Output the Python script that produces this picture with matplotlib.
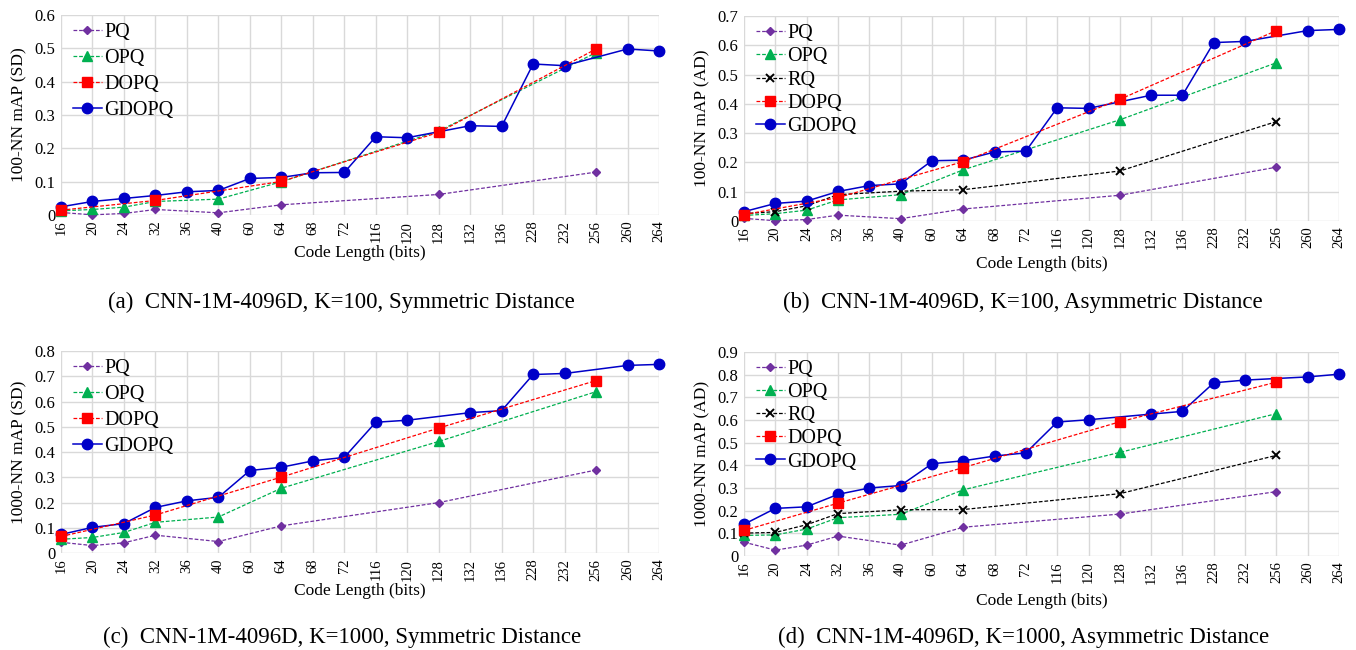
import matplotlib
matplotlib.use("Agg")
import matplotlib.pyplot as plt
from matplotlib.ticker import FuncFormatter, MultipleLocator

# Code lengths shown on the categorical x axis
CODE_LENGTHS = [16, 20, 24, 32, 36, 40, 60, 64, 68, 72,
                116, 120, 128, 132, 136, 228, 232, 256, 260, 264]

# Code lengths at which each method was evaluated
BASE_BITS = [16, 20, 24, 32, 40, 64, 128, 256]          # PQ, OPQ, RQ
DOPQ_BITS = [16, 32, 64, 128, 256]
GDOPQ_BITS = [16, 20, 24, 32, 36, 40, 60, 64, 68, 72,
              116, 120, 132, 136, 228, 232, 260, 264]

# (a) K=100, symmetric distance
a_pq = [0.008, 0.001, 0.005, 0.017, 0.007, 0.031, 0.062, 0.129]
a_opq = [0.013, 0.017, 0.024, 0.041, 0.048, 0.100, 0.252, 0.487]
a_dopq = [0.015, 0.044, 0.101, 0.248, 0.498]
a_gdopq = [0.025, 0.041, 0.050, 0.059, 0.070, 0.074, 0.110, 0.113, 0.127, 0.128,
           0.235, 0.232, 0.268, 0.266, 0.453, 0.448, 0.498, 0.492]

# (b) K=100, asymmetric distance
b_pq = [0.009, 0.001, 0.005, 0.020, 0.008, 0.041, 0.088, 0.184]
b_opq = [0.019, 0.025, 0.037, 0.072, 0.090, 0.175, 0.346, 0.541]
b_rq = [0.025, 0.032, 0.052, 0.090, 0.102, 0.107, 0.171, 0.340]
b_dopq = [0.022, 0.080, 0.203, 0.416, 0.651]
b_gdopq = [0.032, 0.060, 0.068, 0.101, 0.121, 0.127, 0.206, 0.208, 0.236, 0.239,
           0.387, 0.385, 0.430, 0.430, 0.610, 0.614, 0.651, 0.655]

# (c) K=1000, symmetric distance
c_pq = [0.043, 0.030, 0.041, 0.071, 0.046, 0.108, 0.200, 0.329]
c_opq = [0.055, 0.062, 0.082, 0.122, 0.143, 0.257, 0.442, 0.639]
c_dopq = [0.066, 0.151, 0.301, 0.495, 0.683]
c_gdopq = [0.074, 0.102, 0.117, 0.181, 0.207, 0.221, 0.327, 0.340, 0.365, 0.379,
           0.518, 0.526, 0.556, 0.564, 0.707, 0.711, 0.743, 0.747]

# (d) K=1000, asymmetric distance
d_pq = [0.061, 0.026, 0.048, 0.088, 0.048, 0.127, 0.185, 0.284]
d_opq = [0.091, 0.093, 0.119, 0.169, 0.184, 0.292, 0.457, 0.628]
d_rq = [0.101, 0.104, 0.138, 0.187, 0.204, 0.205, 0.275, 0.444]
d_dopq = [0.113, 0.233, 0.390, 0.592, 0.767]
d_gdopq = [0.140, 0.210, 0.217, 0.272, 0.300, 0.311, 0.407, 0.420, 0.441, 0.455,
           0.591, 0.601, 0.626, 0.638, 0.764, 0.776, 0.790, 0.802]

STYLES = {
    "PQ":    dict(color="#7030A0", marker="D", ms=4.2, ls=(0, (3, 1.5)), lw=0.9, zorder=3),
    "OPQ":   dict(color="#00B050", marker="^", ms=6.5, ls=(0, (3, 1.5)), lw=0.9, zorder=3),
    "RQ":    dict(color="#000000", marker="x", ms=6.0, ls=(0, (3, 1.5)), lw=0.9, mew=1.4, zorder=3),
    "DOPQ":  dict(color="#FF0000", marker="s", ms=6.5, ls=(0, (3, 1.5)), lw=0.9, zorder=5),
    "GDOPQ": dict(color="#0000C8", marker="o", ms=7.5, ls="-", lw=1.1, zorder=4),
}

SERIF = ["Liberation Serif", "DejaVu Serif"]

panels = [
    dict(rect=[0.045, 0.669, 0.441, 0.308], ymax=0.6, ylabel="100-NN mAP (SD)",
         series=[("PQ", BASE_BITS, a_pq), ("OPQ", BASE_BITS, a_opq),
                 ("DOPQ", DOPQ_BITS, a_dopq), ("GDOPQ", GDOPQ_BITS, a_gdopq)],
         caption="(a)  CNN-1M-4096D, K=100, Symmetric Distance", cap_y=1 - 302 / 650, xl_pad=2),
    dict(rect=[0.5487, 0.660, 0.4388, 0.315], ymax=0.7, ylabel="100-NN mAP (AD)",
         series=[("PQ", BASE_BITS, b_pq), ("OPQ", BASE_BITS, b_opq), ("RQ", BASE_BITS, b_rq),
                 ("DOPQ", DOPQ_BITS, b_dopq), ("GDOPQ", GDOPQ_BITS, b_gdopq)],
         caption="(b)  CNN-1M-4096D, K=100, Asymmetric Distance", cap_y=1 - 302 / 650, xl_pad=5),
    dict(rect=[0.045, 0.149, 0.441, 0.311], ymax=0.8, ylabel="1000-NN mAP (SD)",
         series=[("PQ", BASE_BITS, c_pq), ("OPQ", BASE_BITS, c_opq),
                 ("DOPQ", DOPQ_BITS, c_dopq), ("GDOPQ", GDOPQ_BITS, c_gdopq)],
         caption="(c)  CNN-1M-4096D, K=1000, Symmetric Distance", cap_y=1 - 637 / 650, xl_pad=2),
    dict(rect=[0.5487, 0.1446, 0.4388, 0.3139], ymax=0.9, ylabel="1000-NN mAP (AD)",
         series=[("PQ", BASE_BITS, d_pq), ("OPQ", BASE_BITS, d_opq), ("RQ", BASE_BITS, d_rq),
                 ("DOPQ", DOPQ_BITS, d_dopq), ("GDOPQ", GDOPQ_BITS, d_gdopq)],
         caption="(d)  CNN-1M-4096D, K=1000, Asymmetric Distance", cap_y=1 - 637 / 650, xl_pad=7),
]

fig = plt.figure(figsize=(13.56, 6.5), dpi=100)
grid_color = "#D9D9D9"

for p in panels:
    ax = fig.add_axes(p["rect"])
    for name, bits, vals in p["series"]:
        xs = [CODE_LENGTHS.index(b) for b in bits]
        st = dict(STYLES[name])
        ax.plot(xs, vals, label=name, color=st.pop("color"), marker=st.pop("marker"),
                markersize=st.pop("ms"), linestyle=st.pop("ls"), linewidth=st.pop("lw"),
                clip_on=False, **st)

    ax.set_xlim(0, len(CODE_LENGTHS) - 1)
    ax.set_ylim(0, p["ymax"])
    ax.set_xticks(range(len(CODE_LENGTHS)))
    ax.set_xticklabels([str(c) for c in CODE_LENGTHS], rotation=90,
                       family=SERIF, fontsize=10.5)
    ax.yaxis.set_major_locator(MultipleLocator(0.1))
    ax.yaxis.set_major_formatter(FuncFormatter(lambda v, _: "0" if abs(v) < 1e-9 else f"{v:.1f}"))
    for lbl in ax.get_yticklabels():
        lbl.set_family(SERIF)
        lbl.set_fontsize(12)
    ax.tick_params(length=0, pad=4)
    ax.grid(True, color=grid_color, linewidth=1.0)
    ax.set_axisbelow(True)
    for sp in ax.spines.values():
        sp.set_visible(False)

    ax.set_xlabel("Code Length (bits)", family=SERIF, fontsize=12.5, labelpad=p["xl_pad"])
    ax.set_ylabel(p["ylabel"], family=SERIF, fontsize=12.5, labelpad=5)

    n = len(p["series"])
    ax.legend(loc="upper left", bbox_to_anchor=(-0.004, 1.03), frameon=False,
              prop=dict(family=SERIF, size=14.5), handlelength=1.45, handletextpad=0.1,
              labelspacing=0.34 if n == 4 else 0.2, borderaxespad=0.3)

    x0, w = p["rect"][0], p["rect"][2]
    fig.text(x0 + w / 2 - 0.0135, p["cap_y"], p["caption"], ha="center", va="center",
             family=SERIF, fontsize=16.5)

fig.savefig("out.png", dpi=100)
